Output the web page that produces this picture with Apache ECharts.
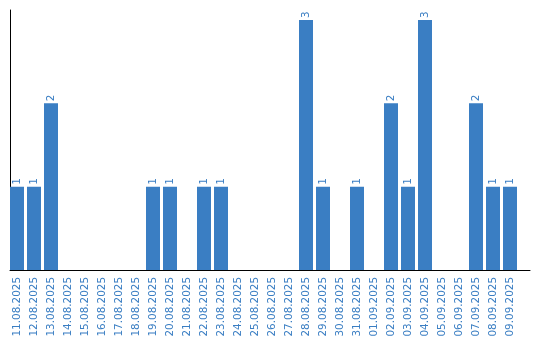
<!DOCTYPE html>
<html>
<head>
<meta charset="utf-8">
<script src="https://cdn.jsdelivr.net/npm/echarts@6/dist/echarts.min.js"></script>
<style>html,body{margin:0;padding:0;background:#fff;}#c{width:540px;height:340px;}</style>
</head>
<body>
<div id="c"></div>
<script>
const dates = ["11.08.2025","12.08.2025","13.08.2025","14.08.2025","15.08.2025","16.08.2025","17.08.2025","18.08.2025","19.08.2025","20.08.2025","21.08.2025","22.08.2025","23.08.2025","24.08.2025","25.08.2025","26.08.2025","27.08.2025","28.08.2025","29.08.2025","30.08.2025","31.08.2025","01.09.2025","02.09.2025","03.09.2025","04.09.2025","05.09.2025","06.09.2025","07.09.2025","08.09.2025","09.09.2025"];
const counts = [1,1,2,0,0,0,0,0,1,1,0,1,1,0,0,0,0,3,1,0,1,0,2,1,3,0,0,2,1,1];

const positions = dates.map((d, i) => i + 1);
const barData = counts.map((v, i) => [positions[i], v]);
const blue = '#3a7ec3';

const chart = echarts.init(document.getElementById('c'), null, {renderer: 'canvas'});
chart.setOption({
  animation: false,
  backgroundColor: '#fff',
  grid: {left: 10, right: 10, top: 10, bottom: 70, containLabel: false},
  xAxis: {
    type: 'value',
    min: 1 - 7/17,
    max: 1 - 7/17 + 520/17,
    axisLine: {show: true, onZero: false, lineStyle: {color: '#000', width: 1}},
    axisTick: {show: false},
    splitLine: {show: false},
    axisLabel: {
      customValues: positions,
      formatter: v => dates[Math.round(v) - 1] || '',
      rotate: 90,
      margin: 7,
      color: blue,
      fontFamily: 'DejaVu Sans',
      fontSize: 10.4,
      hideOverlap: false,
      showMinLabel: true,
      showMaxLabel: true
    }
  },
  yAxis: {
    type: 'value',
    min: 0,
    max: 3.12,
    axisLine: {show: true, lineStyle: {color: '#000', width: 1}},
    axisTick: {show: false},
    axisLabel: {show: false},
    splitLine: {show: false}
  },
  series: [{
    type: 'bar',
    data: barData.filter(d => d[1] > 0),
    barWidth: 14,
    itemStyle: {color: blue},
    label: {
      show: true,
      position: 'top',
      rotate: 90,
      align: 'left',
      verticalAlign: 'middle',
      distance: 2,
      color: blue,
      fontFamily: 'DejaVu Sans',
      fontSize: 10.4,
      formatter: p => p.value[1]
    }
  }]
});
</script>
</body>
</html>
